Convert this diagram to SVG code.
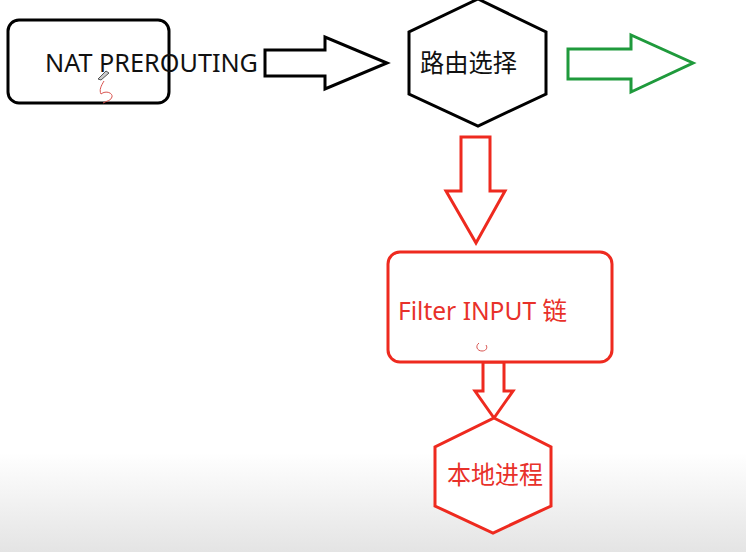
<svg xmlns="http://www.w3.org/2000/svg" width="746" height="552" viewBox="0 0 746 552">
<defs>
<linearGradient id="bg" x1="0" y1="0" x2="0" y2="1">
<stop offset="0" stop-color="#ffffff"/>
<stop offset="0.82" stop-color="#ffffff"/>
<stop offset="1" stop-color="#e4e4e4"/>
</linearGradient>
<style>
.blk{fill:#fff;stroke:#000;stroke-width:3;stroke-linejoin:miter}
.red{fill:#fff;stroke:#ee2a1f;stroke-width:3}
.grn{fill:#fff;stroke:#1f9a3c;stroke-width:3}
.t{font-family:"Noto Sans","Noto Sans CJK SC",sans-serif}
.tb{fill:#111}
.tr{fill:#e8312a}
.ink{fill:none;stroke:#d9534f;stroke-width:1}
</style>
</defs>
<rect width="746" height="552" fill="url(#bg)"/>
<g id="connectors">
<polygon class="blk" points="265,50 325,50 325,37 387,63 325,89 325,76 265,76"/>
<polygon class="grn" points="568,49 631,49 631,35 693,63 631,92 631,79 568,79"/>
<polygon class="red" points="461,137 490,137 490,191 505,191 476,243 446,191 461,191"/>
<polygon class="red" points="483,362 504,362 504,391 513,391 494,418 475,391 483,391"/>
</g>
<g id="nat">
<rect class="blk" x="8" y="20" width="161" height="83" rx="11"/>
<text class="t tb" x="45" y="72" font-size="25" textLength="213" lengthAdjust="spacingAndGlyphs">NAT PREROUTING</text>
<path d="M98,79 L106,71 L109,73 L101,80 Z" fill="#ccc" stroke="#555" stroke-width="1"/>
<path class="ink" d="M104,81 C101,86 99,90 101,94 C106,90 113,93 112,97 C111,101 106,101 103,103"/>
</g>
<g id="route">
<polygon class="blk" points="478,-1 546,32 546,94 478,126 409,94 409,32"/>
<text class="t tb" x="420" y="72" font-size="25" textLength="97" lengthAdjust="spacingAndGlyphs">路由选择</text>
</g>
<g id="filter">
<rect class="red" x="388" y="252" width="224" height="110" rx="12"/>
<text class="t tr" x="398" y="320" font-size="25" textLength="169" lengthAdjust="spacingAndGlyphs">Filter INPUT 链</text>
<path class="ink" d="M479,343 C475,346 477,351 482,351 C486,351 488,348 486,345"/>
</g>
<g id="local">
<polygon class="red" points="494,418 551,447 551,506 493,533 435,506 435,447"/>
<text class="t tr" x="447" y="484" font-size="25" textLength="96" lengthAdjust="spacingAndGlyphs">本地进程</text>
</g>
</svg>
